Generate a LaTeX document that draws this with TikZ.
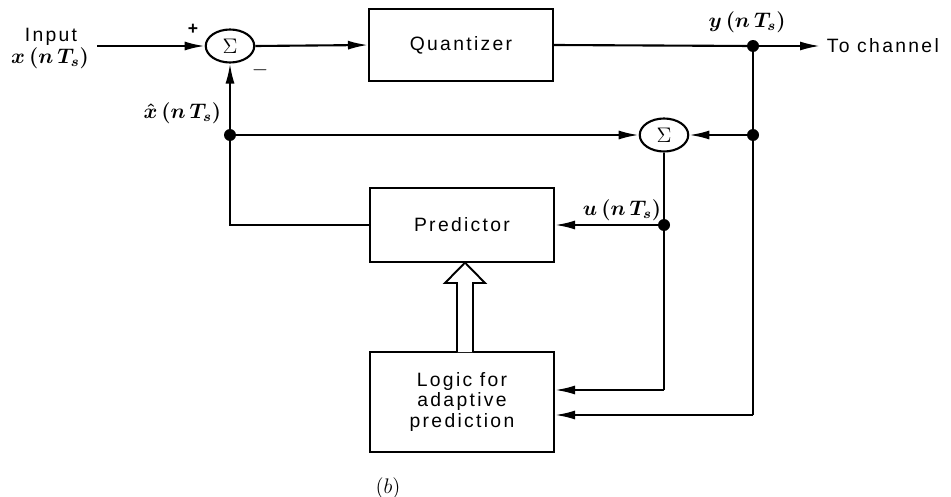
\documentclass[tikz,border=0pt]{standalone}
\usepackage{fontspec}
\setmainfont{Liberation Sans}
\newfontfamily\boxfont[LetterSpace=12]{Liberation Sans}
\usetikzlibrary{arrows.meta,shapes.geometric}

\begin{document}
\begin{tikzpicture}[x=0.02cm,y=-0.02cm,
  line width=1.2pt,
  blk/.style={draw,minimum width=3.68cm,inner sep=0pt,align=center,
    font=\boxfont\fontsize{11}{11.6}\selectfont},
  sumnode/.style={draw,ellipse,minimum width=0.97cm,minimum height=0.66cm,inner sep=0pt,
    font=\fontsize{12}{13}\selectfont},
  jn/.style={circle,fill,inner sep=0pt,minimum size=0.24cm},
  sig/.style={inner sep=1pt,font=\boldmath\fontsize{12}{14}\selectfont},
  txt/.style={inner sep=1pt,align=center,font=\boxfont\fontsize{11}{11.6}\selectfont},
  flow/.style={-{Latex[length=4mm,width=1.8mm]}},
]
\useasboundingbox (0,0) rectangle (951,497);

% blocks and summing junctions
\node[sumnode] (s1) at (230,46) {$\Sigma$};
\node[blk,minimum height=1.44cm] (q) at (461,45) {Quantizer};
\node[sumnode] (s2) at (664,135) {$\Sigma$};
\node[blk,minimum height=1.48cm] (p) at (462,225) {Predictor};
\node[blk,minimum height=2.0cm] (l) at (462,402) {Logic for\\adaptive\\prediction};

% branch points
\node[jn] (jy) at (753,46) {};
\node[jn] (jr) at (753,135) {};
\node[jn] (jx) at (230,135) {};
\node[jn] (ju) at (664,225) {};

% free ends and corners
\coordinate (in) at (97,46);
\coordinate (out) at (820,46);
\coordinate (cy) at (753,415);
\coordinate (cu) at (664,390);

% labels
\node[txt] (inlbl) at (51,37) {Input};
\node[sig] (xin) at (50,58) {$x\,(n\,T_{s})$};
\node[txt,anchor=west] (tc) at (824,46) {To channel};
\node[sig] (ylbl) at (747,22) {$y\,(n\,T_{s})$};
\node[sig,anchor=east] (xlbl) at (224,113) {$\hat{x}\,(n\,T_{s})$};
\node[sig] (ulbl) at (622,210) {$u\,(n\,T_{s})$};
\node[font=\bfseries\fontsize{10}{12}\selectfont] (plus) at (193,29) {+};
\node[font=\bfseries\fontsize{13}{14}\selectfont] (minus) at (260,70) {$-$};
\node[font=\fontsize{12}{14}\selectfont] (cap) at (388,488) {$(b)$};

% forward path
\draw[flow] (in) -- (s1.west);
\draw[flow] (s1.east) -- (q.west);
\draw (q.east) -- (jy.center);
\draw[flow] (jy.center) -- (out);

% output fed back
\draw (jy.center) -- (jr.center) -- (cy);
\draw[flow] (cy) -- (l.east |- cy);
\draw[flow] (jr.center) -- (s2.east);

% reconstruction and prediction loop
\draw[flow] (jx.center) -- (s2.west);
\draw (s2.south) -- (ju.center) -- (cu);
\draw[flow] (cu) -- (l.east |- cu);
\draw[flow] (ju.center) -- (p.east);
\draw (p.west) -- (jx.center |- p.west) -- (jx.center);
\draw[flow] (jx.center) -- (s1.south);

% hollow arrow from the adaptation logic to the predictor
\draw[line width=1.1pt,fill=white]
  (457,352) -- (457,283) -- (445,283) -- (465,262.6) -- (485,283) -- (473,283) -- (473,352);
\end{tikzpicture}
\end{document}
